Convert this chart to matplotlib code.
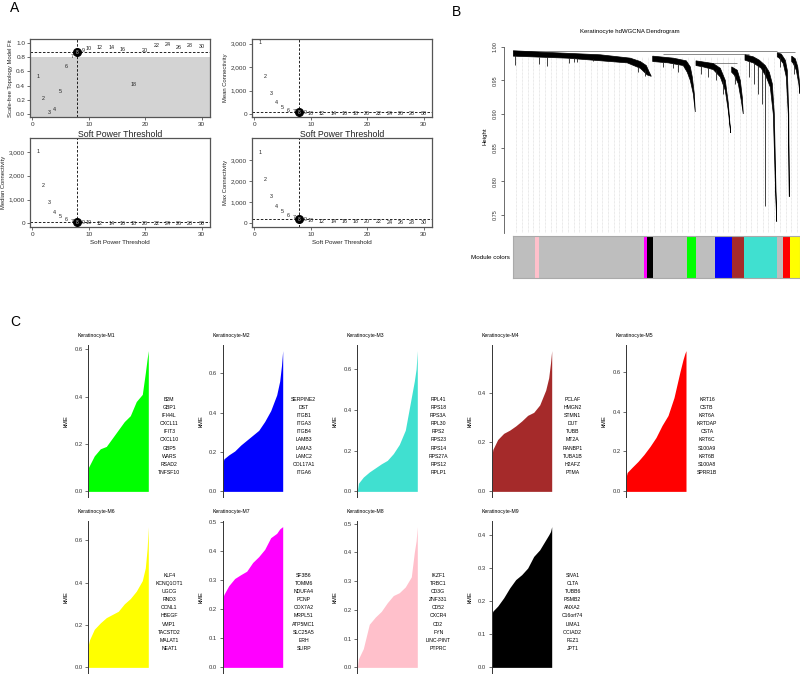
import numpy as np
import matplotlib
matplotlib.use('Agg')
import matplotlib.pyplot as plt
from matplotlib.ticker import FuncFormatter

plt.rcParams['font.family'] = ['Liberation Sans', 'DejaVu Sans']

# ---- panel A: soft power threshold data ----
powers = [1, 2, 3, 4, 5, 6, 7, 8, 9, 10, 12, 14, 16, 18, 20, 22, 24, 26, 28, 30]
sft_fit = [0.53, 0.22, 0.02, 0.06, 0.32, 0.66, 0.80, 0.865, 0.89, 0.915, 0.93, 0.925,
           0.90, 0.41, 0.885, 0.96, 0.97, 0.935, 0.96, 0.95]
mean_k = [3050, 1620, 880, 480, 270, 170, 100, 65, 45, 33, 20, 13, 9, 6, 4, 3, 2, 2, 1, 1]
median_k = [3030, 1610, 890, 470, 270, 150, 80, 45, 28, 18, 8, 4, 2, 1, 1, 0, 0, 0, 0, 0]
max_k = [3380, 2050, 1270, 810, 540, 350, 250, 190, 150, 120, 95, 80, 70, 62, 56, 52, 48, 46, 44, 42]
soft_power = 8
fit_cutoff = 0.8

# ---- panel B: dendrogram outline (leaf position, height) ----
module_bar_colors = ['#BEBEBE', '#FFC0CB', '#BEBEBE', '#FF00FF', '#000000', '#BEBEBE', '#00FF00',
                     '#BEBEBE', '#0000FF', '#A52A2A', '#40E0D0', '#BEBEBE', '#FF0000', '#FFFF00']
module_bar_widths = [22, 4, 104.7, 2.7, 6, 34.6, 8.7, 19, 17, 12, 32.7, 6.6, 6.7, 10]

cluster_1 = [(0, 0.994), (27, 0.992), (87, 0.988), (117, 0.983), (127, 0.978), (133, 0.972),
             (136, 0.962), (138, 0.956), (134, 0.958), (127, 0.968), (114, 0.976), (54, 0.983), (0, 0.986)]
cluster_2 = [(139.4, 0.986), (160, 0.983), (173, 0.979), (177, 0.970), (179, 0.955), (181, 0.930),
             (182, 0.903), (180, 0.930), (177, 0.950), (174, 0.962), (170, 0.972), (155, 0.976), (139.4, 0.978)]
cluster_3a = [(182.7, 0.979), (200, 0.975), (207, 0.968), (212, 0.950), (215, 0.916), (217.4, 0.872),
              (215, 0.905), (212, 0.935), (207, 0.955), (200, 0.966), (190, 0.970), (182.7, 0.972)]
cluster_3b = [(218.4, 0.970), (224, 0.965), (227, 0.950), (229, 0.925), (230, 0.900), (228, 0.920),
              (225, 0.945), (221, 0.958), (218.4, 0.962)]
cluster_4 = [(231.7, 0.988), (240, 0.985), (246, 0.980), (252, 0.972), (256, 0.962), (259, 0.945),
             (261, 0.900), (262.5, 0.800), (263.4, 0.740), (262, 0.800), (260, 0.900), (257, 0.940),
             (253, 0.955), (248, 0.968), (240, 0.976), (231.7, 0.980)]
cluster_5a = [(264, 0.991), (268, 0.989), (272, 0.980), (274, 0.965), (275.5, 0.900), (276, 0.777),
              (275, 0.900), (273, 0.955), (270, 0.975), (266, 0.983), (264, 0.985)]
cluster_5b = [(278.4, 0.986), (282, 0.982), (284.5, 0.970), (286, 0.950), (286.7, 0.930), (285.5, 0.945),
              (283, 0.965), (280, 0.975), (278.4, 0.978)]
dend_spikes = [(1.7, 0.987, 0.973), (25.7, 0.985, 0.975), (34, 0.985, 0.971), (55.7, 0.983, 0.976),
               (60.7, 0.983, 0.977), (63.7, 0.983, 0.978), (80, 0.982, 0.979), (125, 0.970, 0.962),
               (131.7, 0.965, 0.956), (150, 0.977, 0.970), (160, 0.976, 0.968), (165, 0.975, 0.962),
               (188, 0.971, 0.960), (195, 0.968, 0.955), (203, 0.965, 0.950), (210, 0.950, 0.930),
               (222, 0.958, 0.945), (236, 0.979, 0.955), (241, 0.976, 0.945), (245, 0.972, 0.930),
               (249, 0.965, 0.915), (251.7, 0.968, 0.763), (267, 0.984, 0.970), (281, 0.976, 0.960)]
dend_merges = [(0, 263.4, 0.9935), (263.4, 282, 0.9915), (150, 236, 0.9895), (195, 224, 0.9765)]

# ---- panel C: kME distributions (sorted, sampled at rank fractions) ----
kme_rank = [0, 0.02, 0.1, 0.2, 0.3, 0.4, 0.5, 0.6, 0.7, 0.8, 0.9, 0.95, 0.98, 1.0]
kme_M1 = [0.10, 0.11, 0.15, 0.18, 0.19, 0.225, 0.26, 0.295, 0.32, 0.38, 0.41, 0.50, 0.56, 0.595]
kme_M2 = [0.14, 0.165, 0.185, 0.205, 0.235, 0.26, 0.285, 0.31, 0.355, 0.41, 0.49, 0.56, 0.64, 0.715]
kme_M3 = [0.0, 0.04, 0.07, 0.095, 0.115, 0.135, 0.152, 0.185, 0.23, 0.30, 0.46, 0.54, 0.60, 0.69]
kme_M4 = [0.14, 0.17, 0.21, 0.235, 0.248, 0.265, 0.285, 0.308, 0.32, 0.35, 0.41, 0.46, 0.52, 0.57]
kme_M5 = [0.07, 0.095, 0.12, 0.15, 0.185, 0.225, 0.27, 0.33, 0.38, 0.47, 0.60, 0.66, 0.69, 0.705]
kme_M6 = [0.105, 0.13, 0.18, 0.21, 0.235, 0.25, 0.265, 0.30, 0.325, 0.36, 0.41, 0.47, 0.56, 0.665]
kme_M7 = [0.235, 0.25, 0.28, 0.305, 0.318, 0.33, 0.36, 0.38, 0.405, 0.445, 0.46, 0.475, 0.48, 0.483]
kme_M8 = [0.0, 0.03, 0.065, 0.15, 0.175, 0.195, 0.225, 0.25, 0.26, 0.28, 0.315, 0.40, 0.44, 0.49]
kme_M9 = [0.16, 0.17, 0.185, 0.21, 0.24, 0.265, 0.28, 0.30, 0.335, 0.355, 0.385, 0.40, 0.41, 0.425]

genes_M1 = ['B2M', 'GBP1', 'IFI44L', 'CXCL11', 'IFIT3', 'CXCL10', 'GBP5', 'WARS', 'RSAD2', 'TNFSF10']
genes_M2 = ['SERPINE2', 'DST', 'ITGB1', 'ITGA3', 'ITGB4', 'LAMB3', 'LAMA3', 'LAMC2', 'COL17A1', 'ITGA6']
genes_M3 = ['RPL41', 'RPS18', 'RPS3A', 'RPL30', 'RPS2', 'RPS23', 'RPS14', 'RPS27A', 'RPS12', 'RPLP1']
genes_M4 = ['PCLAF', 'HMGN2', 'STMN1', 'DUT', 'TUBB', 'MT2A', 'RANBP1', 'TUBA1B', 'H2AFZ', 'PTMA']
genes_M5 = ['KRT16', 'CSTB', 'KRT6A', 'KRTDAP', 'CSTA', 'KRT6C', 'S100A9', 'KRT6B', 'S100A8', 'SPRR1B']
genes_M6 = ['KLF4', 'KCNQ1OT1', 'UGCG', 'RND3', 'CCNL1', 'HBEGF', 'VMP1', 'TACSTD2', 'MALAT1', 'NEAT1']
genes_M7 = ['SF3B6', 'TOMM6', 'NDUFA4', 'PCNP', 'COX7A2', 'MRPL51', 'ATP5MC1', 'SLC25A5', 'ERH', 'SLIRP']
genes_M8 = ['IKZF1', 'TRBC1', 'CD3G', 'ZNF331', 'CD52', 'CXCR4', 'CD2', 'FYN', 'LINC-PINT', 'PTPRC']
genes_M9 = ['SIVA1', 'CLTA', 'TUBB6', 'PSMB2', 'ANXA2', 'C16orf74', 'LIMA1', 'OCIAD2', 'FEZ1', 'JPT1']

module_names = ['M1', 'M2', 'M3', 'M4', 'M5', 'M6', 'M7', 'M8', 'M9']
module_colors = ['#00FF00', '#0000FF', '#40E0D0', '#A52A2A', '#FF0000', '#FFFF00', '#FF00FF', '#FFC0CB', '#000000']
module_tick_step = [0.2, 0.2, 0.2, 0.2, 0.2, 0.2, 0.1, 0.1, 0.1]

W, H = 800, 675
fig = plt.figure(figsize=(W / 100, H / 100), dpi=100)


def px_axes(left, top, right, bottom):
    return fig.add_axes([left / W, 1 - bottom / H, (right - left) / W, (bottom - top) / H])


def comma(v, pos):
    return f'{int(v):,}'


def sft_panel(box, values, ylabel, ylim, yticks, ytick_fmt, label_size, grey=False):
    ax = px_axes(*box)
    ax.set_xlim(-0.4, 31.5)
    ax.set_ylim(*ylim)
    if grey:
        ax.axhspan(ylim[0], fit_cutoff, color='#D3D3D3', lw=0, zorder=0)
    pick = values[powers.index(soft_power)]
    ax.axvline(soft_power, color='black', lw=0.6, ls=(0, (3, 2)), zorder=1)
    ax.axhline(pick, color='black', lw=0.6, ls=(0, (3, 2)), zorder=1)
    for p, v in zip(powers, values):
        if p == soft_power:
            continue
        ax.text(p, v, str(p), ha='center', va='center', fontsize=3.9, color='#222222', zorder=2)
    ax.scatter([soft_power], [pick], s=30, color='black', zorder=3)
    ax.text(soft_power, pick, str(soft_power), ha='center', va='center', fontsize=3.4,
            color='#cccccc', zorder=4)
    ax.set_xticks([0, 10, 20, 30])
    ax.set_yticks(yticks)
    ax.yaxis.set_major_formatter(ytick_fmt)
    ax.tick_params(length=2, width=0.5, pad=1.5, labelsize=4.6, colors='#333333')
    for s in ax.spines.values():
        s.set_color('#555555')
        s.set_linewidth(0.9)
    ax.set_ylabel(ylabel, fontsize=4.2, labelpad=2, color='#222222')
    ax.set_xlabel('Soft Power Threshold', fontsize=label_size, labelpad=2, color='#222222')
    return ax


fmt1 = FuncFormatter(lambda v, p: f'{v:.1f}')
fmtc = FuncFormatter(comma)
sft_panel((30, 39, 210, 117), sft_fit, 'Scale-free Topology Model Fit', (-0.04, 1.05),
          [0, 0.2, 0.4, 0.6, 0.8, 1.0], fmt1, 6.3, grey=True)
sft_panel((252, 39, 432, 117), mean_k, 'Mean Connectivity', (-128, 3200),
          [0, 1000, 2000, 3000], fmtc, 6.3)
sft_panel((30, 138, 210, 227), median_k, 'Median Connectivity', (-156, 3590),
          [0, 1000, 2000, 3000], fmtc, 4.5)
sft_panel((252, 138, 432, 227), max_k, 'Max Connectivity', (-190, 4050),
          [0, 1000, 2000, 3000], fmtc, 4.5)

fig.text(10 / W, 1 - 8 / H, 'A', fontsize=10, va='center', ha='left')
fig.text(452 / W, 1 - 12 / H, 'B', fontsize=10, va='center', ha='left')
fig.text(10 / W, 1 - 322 / H, 'C', fontsize=10, va='center', ha='left')

# ---- panel B: dendrogram ----
total_leaves = sum(module_bar_widths)
axd = px_axes(513.3, 40, 800, 233)
axd.set_xlim(0, total_leaves)
axd.set_ylim(0.723, 1.01)
for x in np.arange(3, total_leaves, 5.73):
    axd.vlines(x, 0.723, 0.985, colors='#d5d5d5', linestyles=(0, (1, 1)), lw=0.5, zorder=0)
for outline in [cluster_1, cluster_2, cluster_3a, cluster_3b, cluster_4, cluster_5a, cluster_5b]:
    xs, hs = zip(*outline)
    axd.fill(xs, hs, color='black', lw=0.5, zorder=2)
for x, top, bottom in dend_spikes:
    axd.vlines(x, bottom, top, colors='#222222', lw=0.6, zorder=2)
for x0, x1, h in dend_merges:
    axd.hlines(h, x0, x1, colors='#777777', lw=0.6, zorder=1)
for s in ['top', 'right', 'bottom']:
    axd.spines[s].set_visible(False)
axd.spines['left'].set_position(('outward', 7))
axd.spines['left'].set_bounds(0.723, 1.0)
axd.spines['left'].set_color('#555555')
axd.spines['left'].set_linewidth(0.6)
axd.set_xticks([])
axd.set_yticks([0.75, 0.80, 0.85, 0.90, 0.95, 1.00])
axd.set_yticklabels(['0.75', '0.80', '0.85', '0.90', '0.95', '1.00'], rotation=90, va='center')
axd.tick_params(axis='y', length=2, width=0.5, pad=2, labelsize=4, colors='#333333')
axd.set_ylabel('Height', fontsize=4.3, labelpad=4)
fig.text(630 / W, 1 - 31 / H, 'Keratinocyte hdWGCNA Dendrogram', fontsize=4.3, ha='center', va='center')

axc = px_axes(513.3, 236, 800, 278)
lefts = np.concatenate([[0], np.cumsum(module_bar_widths)[:-1]])
axc.barh(0, module_bar_widths, left=lefts, color=module_bar_colors, height=1, lw=0)
axc.set_xlim(0, total_leaves)
axc.set_ylim(-0.5, 0.5)
axc.set_xticks([])
axc.set_yticks([])
for s in axc.spines.values():
    s.set_color('#aaaaaa')
    s.set_linewidth(0.8)
fig.text(490 / W, 1 - 257 / H, 'Module colors', fontsize=4.5, ha='center', va='center')

# ---- panel C: kME plots ----
kme_all = [kme_M1, kme_M2, kme_M3, kme_M4, kme_M5, kme_M6, kme_M7, kme_M8, kme_M9]
genes_all = [genes_M1, genes_M2, genes_M3, genes_M4, genes_M5, genes_M6, genes_M7, genes_M8, genes_M9]
col_left = [88.3, 222.7, 357.3, 491.7, 626]
row_span = [(345, 497), (521, 673)]

for i, name in enumerate(module_names):
    r, c = divmod(i, 5)
    top, bottom = row_span[r]
    left = col_left[c]
    ax = px_axes(left, top, left + 60, bottom)
    vals = kme_all[i]
    ax.fill_between(kme_rank, 0, vals, color=module_colors[i], lw=0)
    ymax = max(vals)
    ax.set_xlim(0, 1)
    ax.set_ylim(-0.04 * ymax, 1.04 * ymax)
    ax.set_yticks(np.arange(0, 1.04 * ymax + 1e-9, module_tick_step[i]))
    ax.yaxis.set_major_formatter(fmt1)
    ax.set_xticks([])
    for s in ['top', 'right', 'bottom']:
        ax.spines[s].set_visible(False)
    ax.spines['left'].set_linewidth(0.7)
    ax.spines['left'].set_color('#333333')
    ax.tick_params(axis='y', length=2, width=0.5, pad=2, labelsize=4.2, colors='#333333')
    ax.set_ylabel('kME', fontsize=4.2, labelpad=4)
    ax.text(-0.17, 1.06, f'Keratinocyte-{name}', transform=ax.transAxes, fontsize=3.7,
            ha='left', va='center')
    for j, g in enumerate(genes_all[i]):
        ax.text(1.35, 0.643 - j * 0.0535, g, transform=ax.transAxes, fontsize=3.7,
                ha='center', va='center', clip_on=False)

fig.savefig('out.png', dpi=100)
